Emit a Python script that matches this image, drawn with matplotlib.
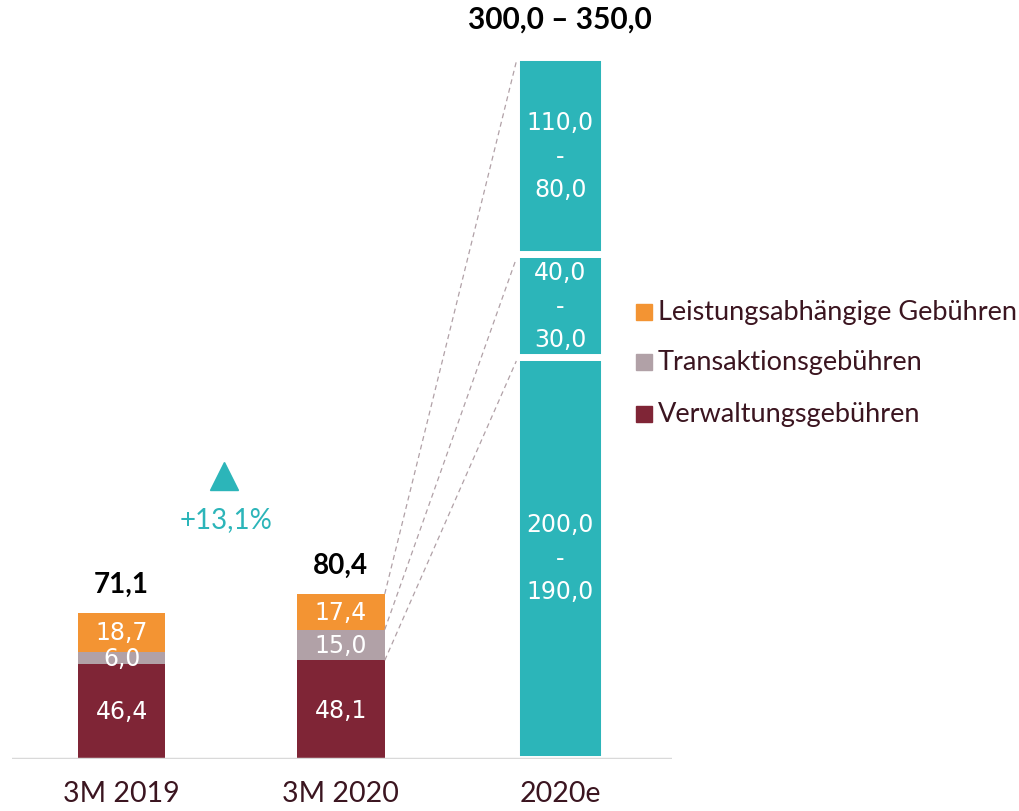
import matplotlib.pyplot as plt
from matplotlib.patches import Rectangle

plt.rcParams['font.family'] = ['Lato', 'DejaVu Sans']
NUM_FONT = ['DejaVu Sans']

categories = ['3M 2019', '3M 2020', '2020e']
verwaltung = [46.4, 48.1]
transaktion = [6.0, 15.0]
leistung = [18.7, 17.4]
totals = [71.1, 80.4]

range_high = [200.0, 40.0, 110.0]
range_low = [190.0, 30.0, 80.0]
est_heights = [196, 50, 96]
range_total = '300,0 – 350,0'
growth = '+13,1%'

legend_labels = ['Leistungsabhängige Gebühren', 'Transaktionsgebühren', 'Verwaltungsgebühren']

c_verw = '#7f2536'
c_trans = '#b1a1a7'
c_leist = '#f39433'
c_teal = '#2cb5b9'
c_text = '#3b1520'


def fmt(v):
    return f'{v:.1f}'.replace('.', ',')


fig = plt.figure(figsize=(10.19, 8.12), dpi=100)
ax = fig.add_axes([12 / 1019, 52 / 812, 660 / 1019, 720 / 812])

w = 0.40
x_hist = [0, 1]
ax.bar(x_hist, verwaltung, width=w, color=c_verw)
ax.bar(x_hist, transaktion, width=w, bottom=verwaltung, color=c_trans)
bottom2 = [a + b for a, b in zip(verwaltung, transaktion)]
ax.bar(x_hist, leistung, width=w, bottom=bottom2, color=c_leist)

for i in x_hist:
    ax.text(i, verwaltung[i] / 2, fmt(verwaltung[i]), ha='center', va='center', color='white',
            fontsize=17, family=NUM_FONT)
    ax.text(i, verwaltung[i] + transaktion[i] / 2, fmt(transaktion[i]), ha='center', va='center',
            color='white', fontsize=17, family=NUM_FONT)
    ax.text(i, bottom2[i] + leistung[i] / 2, fmt(leistung[i]), ha='center', va='center', color='white',
            fontsize=17, family=NUM_FONT)
    ax.annotate(fmt(totals[i]), (i, bottom2[i] + leistung[i]), xytext=(0, 21), textcoords='offset points',
                ha='center', va='center', color='black', fontsize=20, fontweight='bold')

# 2020e Balken
b = 0
tops = []
for h, hi, lo in zip(est_heights, range_high, range_low):
    ax.bar(2, h, width=w, bottom=b, color=c_teal, edgecolor='white', linewidth=5)
    ax.text(2, b + h / 2, f'{fmt(hi)}\n-\n{fmt(lo)}', ha='center', va='center', color='white',
            fontsize=17, linespacing=1.5, family=NUM_FONT)
    b += h
    tops.append(b)
ax.annotate(range_total, (2, b), xytext=(0, 28), textcoords='offset points', ha='center', va='center',
            color='black', fontsize=21.5, fontweight='bold')

# gestrichelte Verbindungslinien
starts = [verwaltung[1], bottom2[1], bottom2[1] + leistung[1]]
for s, e in zip(starts, tops):
    ax.plot([1 + w / 2, 2 - w / 2], [s, e - 2], color=c_trans, lw=0.9, ls=(0, (4, 3)))

# Wachstum
ax.plot(0.465, 138, marker='^', color=c_teal, markersize=20, ls='none')
ax.text(0.475, 117, growth, ha='center', va='center', color=c_teal, fontsize=20)

ax.axhline(0, color='#d9d9d9', lw=2.5, zorder=3)
ax.set_xlim(-0.5, 2.51)
ax.set_ylim(0, 351)
ax.set_xticks(range(3))
ax.set_xticklabels(categories, fontsize=20.5, color=c_text)
ax.tick_params(axis='x', length=0, pad=15)
ax.set_yticks([])
for sp in ax.spines.values():
    sp.set_visible(False)

# Legende
colors = [c_leist, c_trans, c_verw]
rows = [313, 363, 415]
for lab, col, yp in zip(legend_labels, colors, rows):
    fig.patches.append(Rectangle((636 / 1019, 1 - (yp + 8) / 812), 16 / 1019, 16 / 812,
                                 transform=fig.transFigure, color=col))
    fig.text(658 / 1019, 1 - yp / 812, lab, ha='left', va='center', color=c_text, fontsize=19.5)

fig.savefig('out.png', dpi=100)
